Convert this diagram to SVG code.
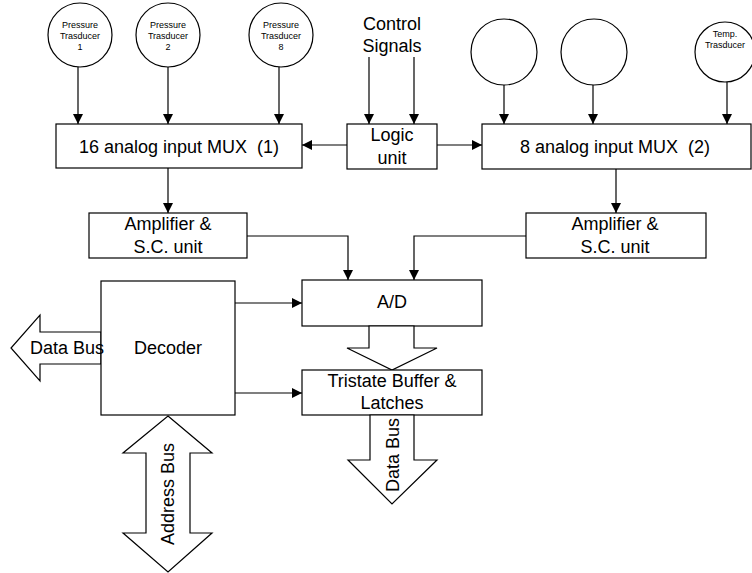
<svg xmlns="http://www.w3.org/2000/svg" width="752" height="573" viewBox="0 0 752 573">
<defs>
<marker id="ah" markerWidth="10" markerHeight="10" refX="10" refY="5" orient="auto" markerUnits="userSpaceOnUse">
<path d="M0,0 L10,5 L0,10 Z" fill="#000"/>
</marker>
<style>
.b, .big { fill: #fff; stroke: #000; stroke-width: 1.2; }
.c line, .c polyline { stroke: #000; stroke-width: 1.2; fill: none; marker-end: url(#ah); }
text { font-family: "Liberation Sans", Arial, sans-serif; fill: #000; text-anchor: middle; white-space: pre; }
.t { font-size: 18px; }
.s { font-size: 9px; }
</style>
</defs>
<rect width="752" height="573" fill="#fff"/>

<g class="c" id="connectors">
<line x1="78" y1="67" x2="78" y2="124"/>
<line x1="168" y1="67" x2="168" y2="124"/>
<line x1="279" y1="67" x2="279" y2="124"/>
<line x1="369" y1="57" x2="369" y2="124"/>
<line x1="414" y1="57" x2="414" y2="124"/>
<line x1="504" y1="85" x2="504" y2="124"/>
<line x1="593" y1="85" x2="593" y2="124"/>
<line x1="727" y1="82" x2="727" y2="124"/>
<line x1="347" y1="145" x2="302" y2="145"/>
<line x1="437" y1="145" x2="482" y2="145"/>
<line x1="168" y1="168" x2="168" y2="213"/>
<line x1="616" y1="169" x2="616" y2="213"/>
<polyline points="247,236 348,236 348,280"/>
<polyline points="526,236 414,236 414,280"/>
<line x1="235" y1="303" x2="302" y2="303"/>
<line x1="235" y1="393" x2="302" y2="393"/>
</g>

<g id="pt1"><circle class="b" cx="80" cy="35" r="32"/>
<text class="s" x="80" y="28">Pressure</text><text class="s" x="80" y="39">Trasducer</text><text class="s" x="80" y="50">1</text></g>
<g id="pt2"><circle class="b" cx="168" cy="35" r="32"/>
<text class="s" x="168" y="28">Pressure</text><text class="s" x="168" y="39">Trasducer</text><text class="s" x="168" y="50">2</text></g>
<g id="pt8"><circle class="b" cx="281" cy="35" r="32"/>
<text class="s" x="281" y="28">Pressure</text><text class="s" x="281" y="39">Trasducer</text><text class="s" x="281" y="50">8</text></g>
<g id="ctrl"><text class="t" x="392" y="30">Control</text><text class="t" x="392" y="52">Signals</text></g>
<g id="c1"><circle class="b" cx="504" cy="52" r="33"/></g>
<g id="c2"><circle class="b" cx="594" cy="52" r="33"/></g>
<g id="temp"><circle class="b" cx="725" cy="52" r="30"/>
<text class="s" x="725" y="37">Temp.</text><text class="s" x="725" y="48">Trasducer</text></g>

<g id="mux1"><rect class="b" x="56" y="124" width="246" height="44"/><text class="t" x="179" y="153">16 analog input MUX  (1)</text></g>
<g id="logic"><rect class="b" x="347" y="124" width="90" height="45"/><text class="t" x="392" y="141">Logic</text><text class="t" x="392" y="164">unit</text></g>
<g id="mux2"><rect class="b" x="482" y="124" width="269" height="45"/><text class="t" x="615" y="153">8 analog input MUX  (2)</text></g>
<g id="amp1"><rect class="b" x="89" y="213" width="158" height="45"/><text class="t" x="168" y="230">Amplifier &amp;</text><text class="t" x="168" y="253">S.C. unit</text></g>
<g id="amp2"><rect class="b" x="526" y="213" width="180" height="45"/><text class="t" x="615" y="230">Amplifier &amp;</text><text class="t" x="615" y="253">S.C. unit</text></g>
<g id="ad"><rect class="b" x="302" y="280" width="180" height="46"/><text class="t" x="392" y="308">A/D</text></g>

<g id="adbus"><polygon class="big" points="369,326 414,326 414,348 437,348 392,370 347,348 369,348"/></g>

<g id="tristate"><rect class="b" x="302" y="370" width="180" height="45"/><text class="t" x="392" y="387">Tristate Buffer &amp;</text><text class="t" x="392" y="409">Latches</text></g>

<g id="databus2"><polygon class="big" points="370,415 414,415 414,460 437,460 392,504 348,460 370,460"/>
<text class="t" transform="translate(399,455) rotate(-90)">Data Bus</text></g>

<g id="databus1"><polygon class="big" points="101,332 40,332 40,315 11,348 40,381 40,364 101,364"/></g>

<g id="decoder"><rect class="b" x="101" y="281" width="134" height="134"/><text class="t" x="168" y="354">Decoder</text></g>
<g id="databus1label"><text class="t" x="67" y="354">Data Bus</text></g>

<g id="addrbus"><polygon class="big" points="168,416 212,453 190,453 190,533 212,533 168,572 123,533 146,533 146,453 123,453"/>
<text class="t" transform="translate(174,494) rotate(-90)">Address Bus</text></g>
</svg>
